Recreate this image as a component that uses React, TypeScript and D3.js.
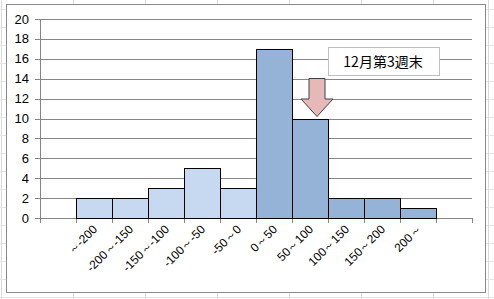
import React from "react";
import * as d3 from "d3";

const categories = ["～-200", "-200～-150", "-150～-100", "-100～-50", "-50～0", "0～50", "50～100", "100～150", "150～200", "200～"];
const counts = [2, 2, 3, 5, 3, 17, 10, 2, 2, 1];
const yTicks = [0, 2, 4, 6, 8, 10, 12, 14, 16, 18, 20];
const annotationText = "12月第3週末";
const annotationIndex = 6;

const W = 494, H = 299;
const plot = { left: 40, right: 472, top: 19, bottom: 218 };

export default function App() {
  const slots = ["__a", ...categories, "__b"];
  const x = d3.scaleBand<string>().domain(slots).range([plot.left, plot.right]).padding(0);
  const y = d3.scaleLinear().domain([0, 20]).range([plot.bottom, plot.top]);
  const bw = x.bandwidth();
  const gridColor = "#868686";
  const bgCols = d3.range(1, 494, 72);
  const bgRows = d3.range(9, 299, 18);

  const ax = (x(categories[annotationIndex]) as number) + bw / 2 + 7;
  const aTop = y(counts[annotationIndex]);
  return (
    <svg width={W} height={H} style={{ position: "absolute", left: 0, top: 0 }}>
      <rect x={0} y={0} width={W} height={H} fill="#fff" />
      {bgCols.map((c) => (
        <line key={"c" + c} x1={c + 0.5} x2={c + 0.5} y1={0} y2={H} stroke="#d9d9d9" />
      ))}
      <line x1={488.5} x2={488.5} y1={0} y2={H} stroke="#d9d9d9" />
      {bgRows.map((r) => (
        <line key={"r" + r} x1={0} x2={W} y1={r + 0.5} y2={r + 0.5} stroke="#e4e4e4" />
      ))}
      <rect x={6.5} y={4.5} width={479} height={288} fill="#fff" stroke="#898989" />
      {yTicks.map((t) => (
        <g key={t}>
          <line x1={plot.left - 5} x2={plot.right} y1={Math.round(y(t)) + 0.5} y2={Math.round(y(t)) + 0.5} stroke={gridColor} />
          <text x={29} y={y(t) + 4.5} textAnchor="end" fontFamily="Liberation Sans, Arial, sans-serif" fontSize={13} fill="#000">{t}</text>
        </g>
      ))}
      <line x1={plot.left + 0.5} x2={plot.left + 0.5} y1={plot.top} y2={plot.bottom} stroke={gridColor} />
      {slots.map((s, i) => (
        <line key={"xt" + i} x1={Math.round(x(s) as number) + 0.5} x2={Math.round(x(s) as number) + 0.5} y1={plot.bottom} y2={plot.bottom + 5} stroke={gridColor} />
      ))}
      <line x1={plot.right + 0.5} x2={plot.right + 0.5} y1={plot.bottom} y2={plot.bottom + 5} stroke={gridColor} />
      {categories.map((c, i) => (
        <rect key={c} x={Math.round(x(c) as number) + 0.5} y={Math.round(y(counts[i])) + 0.5} width={Math.round(bw)} height={Math.round(y(0)) - Math.round(y(counts[i]))}
          fill={i < 5 ? "#C6D9F1" : "#95B3D7"} stroke="#000" strokeWidth={1} />
      ))}
      {categories.map((c) => {
        const cx = (x(c) as number) + bw / 2 + 4;
        const cy = 230;
        return (
          <text key={"l" + c} x={cx} y={cy} textAnchor="end" transform={`rotate(-45 ${cx} ${cy})`} fontFamily="Liberation Sans, Arial, sans-serif" fontSize={12} fill="#000">{c}</text>
        );
      })}
      <path d={`M${ax - 8},78.5 L${ax + 8},78.5 L${ax + 8},99 L${ax + 16},99 L${ax},${aTop - 2} L${ax - 16},99 L${ax - 8},99 Z`} fill="#E6B9B8" stroke="#404040" strokeWidth={1} />
      <rect x={328.5} y={47.5} width={111} height={28} fill="#fff" stroke="#bfbfbf" />
      <text x={383} y={67} textAnchor="middle" fontFamily="Noto Sans CJK JP, sans-serif" fontSize={14} fill="#000">{annotationText}</text>
    </svg>
  );
}
